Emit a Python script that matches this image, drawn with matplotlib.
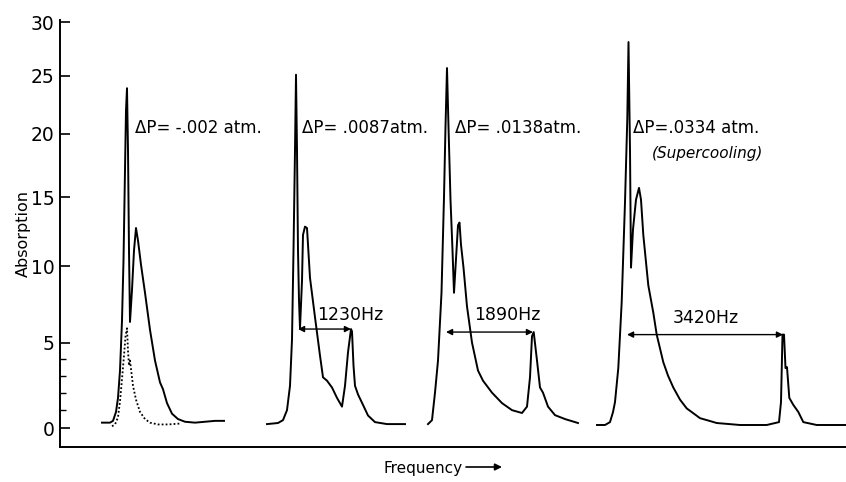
import numpy as np
import matplotlib
matplotlib.use("Agg")
import matplotlib.pyplot as plt

# frequency positions are arbitrary units (no scale on the original axis)
s1_x = [102, 110, 113, 116, 118, 120, 122, 123.5, 125, 126, 127, 128, 129, 130, 132, 134,
        136, 138, 141, 145, 150, 155, 160, 163, 167, 172, 178, 185, 195, 205, 215, 224]
s1_y = [0.3, 0.3, 0.4, 0.9, 1.7, 3.3, 6.4, 10.4, 17.1, 22.0, 23.9, 18.7, 11.1, 6.3, 8.4, 11.1,
        12.7, 11.8, 10.1, 8.2, 5.8, 3.9, 2.6, 2.2, 1.4, 0.8, 0.5, 0.35, 0.3, 0.35, 0.4, 0.4]

# dotted curve under the first spectrum
d1_x = [112, 115, 118, 120, 122, 124, 125.5, 127, 128, 129, 130, 131, 133, 136, 140, 145,
        150, 158, 168, 180]
d1_y = [0.1, 0.2, 0.6, 1.5, 2.8, 4.2, 5.4, 5.9, 4.5, 3.6, 3.9, 3.4, 2.4, 1.6, 0.9, 0.5,
        0.3, 0.2, 0.2, 0.25]

s2_x = [267, 278, 283, 287, 290, 292, 293.5, 295, 296, 297, 298, 299, 300, 302, 303, 305,
        307, 310, 315, 320, 323, 327, 332, 337, 342, 345, 348, 351, 352, 353.5, 355, 358,
        363, 368, 375, 387, 405]
s2_y = [0.22, 0.28, 0.44, 1.0, 2.4, 5.2, 11.1, 18.7, 25.1, 18.7, 11.1, 7.7, 5.9, 9.0, 12.2, 12.8,
        12.7, 9.2, 6.6, 4.2, 2.9, 2.7, 2.3, 1.7, 1.2, 2.4, 4.4, 5.85, 5.7, 3.6, 2.4, 1.9,
        1.3, 0.7, 0.33, 0.22, 0.22]

s3_x = [428, 432, 435, 438, 441.5, 444, 445.5, 447, 448.5, 450.5, 452.5, 454, 456, 458, 459.5,
        461, 463.5, 467, 472, 478, 483, 492, 502, 512, 522, 527, 530, 532, 533.7, 537, 540,
        543, 548, 555, 565, 578]
s3_y = [0.22, 0.44, 2.0, 3.9, 8.2, 15.0, 20.6, 25.7, 20.6, 14.8, 11.1, 8.2, 10.5, 12.9, 13.1,
        11.5, 9.9, 7.3, 5.0, 3.3, 2.7, 2.0, 1.4, 1.0, 0.84, 1.2, 2.9, 5.4, 5.66, 3.9, 2.3,
        2.0, 1.2, 0.72, 0.5, 0.28]

s4_x = [597, 605, 610, 613, 615, 618.3, 621.7, 625, 627.3, 628.5, 630, 631, 633, 636, 639,
        641, 643.3, 648.3, 653.3, 656.7, 663.3, 668, 673.3, 680, 686.7, 693, 700, 710, 716.7,
        740, 766.7, 779, 781, 782.5, 784, 785.5, 787, 789.3, 793.3, 798.3, 803.3, 816.7, 846]
s4_y = [0.17, 0.17, 0.33, 0.89, 1.46, 3.45, 7.6, 14.6, 21.3, 28.1, 18.7, 9.9, 12.6, 14.8, 15.7,
        14.8, 12.2, 8.7, 6.9, 5.5, 3.8, 3.0, 2.3, 1.6, 1.1, 0.84, 0.55, 0.39, 0.28,
        0.17, 0.17, 0.33, 1.46, 5.5, 5.5, 3.45, 3.5, 1.7, 1.3, 0.9, 0.33, 0.17, 0.17]

# pressure labels
dp_labels = ["\u0394P= -.002 atm.", "\u0394P= .0087atm.", "\u0394P= .0138atm.", "\u0394P=.0334 atm."]
dp_x = [135, 302, 455, 633]

# splitting arrows
split_labels = ["1230Hz", "1890Hz", "3420Hz"]
split_from = [298, 446, 627]
split_to = [351, 533, 783]
split_level = [5.85, 5.66, 5.5]
split_label_x = [350, 507, 706]
split_label_y = [6.75, 6.75, 6.55]

y_ticks = [0, 5, 10, 15, 20, 25, 30]
y_minor = [1, 2, 3, 4]


def fwd(v):
    v = np.asarray(v, dtype=float)
    return np.log1p(np.clip(v / 40.0, -0.99, None))


def inv(u):
    return 40.0 * np.expm1(np.asarray(u, dtype=float))


plt.rcParams['font.family'] = ['DejaVu Sans']

fig = plt.figure(figsize=(8.46, 4.82), dpi=100)
ax = fig.add_axes([60 / 846, 35 / 482, 786 / 846, 427 / 482])
ax.set_yscale('function', functions=(fwd, inv))

for xs, ys in [(s1_x, s1_y), (s2_x, s2_y), (s3_x, s3_y), (s4_x, s4_y)]:
    ax.plot(xs, ys, color='black', lw=1.4)
ax.plot(d1_x, d1_y, color='black', lw=1.3, linestyle=(0, (1, 1.2)))

for lab, x in zip(dp_labels, dp_x):
    ax.text(x, 20.5, lab, fontsize=12, ha='left', va='center')
ax.text(652, 18.4, "(Supercooling)", fontsize=11, style='italic', ha='left', va='center')

for x1, x2, y in zip(split_from, split_to, split_level):
    ax.annotate('', xy=(x2, y), xytext=(x1, y),
                arrowprops=dict(arrowstyle='<|-|>', color='black', lw=1.0,
                                mutation_scale=9, shrinkA=0, shrinkB=0))
for lab, x, y in zip(split_labels, split_label_x, split_label_y):
    ax.text(x, y, lab, fontsize=12.5, ha='center', va='center')

ax.set_xlim(60, 846)
ax.set_ylim(-1.03, 30.2)
ax.set_yticks(y_ticks)
ax.set_yticks(y_minor, minor=True)
ax.set_yticklabels([str(t) for t in y_ticks], fontsize=13.5)
ax.tick_params(axis='y', which='major', direction='in', length=7, width=1.2, pad=4)
ax.tick_params(axis='y', which='minor', direction='in', length=4, width=1.0)
ax.set_xticks([])
for side in ['top', 'right']:
    ax.spines[side].set_visible(False)
ax.spines['left'].set_linewidth(1.4)
ax.spines['bottom'].set_linewidth(1.4)

ax.set_ylabel("Absorption", fontsize=11.5, labelpad=0)
fig.text(423 / 846, 1 - 468 / 482, "Frequency", fontsize=11, ha='center', va='center')
ax.annotate('', xy=(502 / 846, 1 - 467 / 482), xytext=(466 / 846, 1 - 467 / 482),
            xycoords='figure fraction', textcoords='figure fraction',
            arrowprops=dict(arrowstyle='-|>', color='black', lw=1.2,
                            mutation_scale=10, shrinkA=0, shrinkB=0))

fig.savefig("out.png", dpi=100)
